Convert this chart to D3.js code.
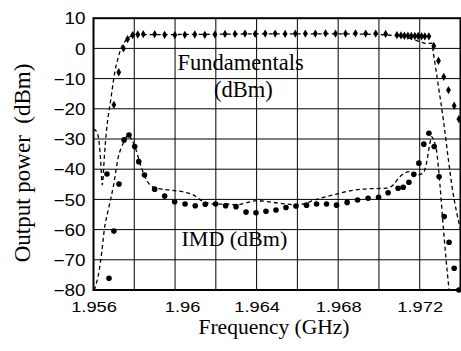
<!DOCTYPE html>
<html><head><meta charset="utf-8">
<script src="https://cdn.jsdelivr.net/npm/d3@7/dist/d3.min.js"></script>
<style>
html,body{margin:0;padding:0;background:#fff;}
svg{display:block;}
</style></head>
<body><svg id="c" width="461" height="351"></svg>
<script>
// ---- data ----
const xTicks = [1.956, 1.96, 1.964, 1.968, 1.972];
const xTickLabels = ["1.956", "1.96", "1.964", "1.968", "1.972"];
const xGrid = [1.958, 1.96, 1.962, 1.964, 1.966, 1.968, 1.970, 1.972];
const yTicks = [-80, -70, -60, -50, -40, -30, -20, -10, 0, 10];

// measured fundamentals (diamonds)
const fundX = [1.95700, 1.95724, 1.95747, 1.95767, 1.95792, 1.95817, 1.95844,
  1.95900, 1.95949, 1.95999, 1.96048, 1.96097, 1.96146, 1.96196, 1.96245, 1.96294, 1.96343,
  1.96393, 1.96442, 1.96491, 1.96540, 1.96590, 1.96639, 1.96688, 1.96738, 1.96787, 1.96836,
  1.96885, 1.96935, 1.96984, 1.97033,
  1.97088, 1.97108, 1.97125, 1.97142, 1.97159, 1.97176, 1.97192, 1.97209, 1.97225, 1.97245,
  1.97269, 1.97292, 1.97318, 1.97341, 1.97369, 1.97392];
const fundY = [-18.7, -7.9, 0.0, 3.1, 4.4, 4.6, 4.7,
  4.7, 4.5, 4.4, 4.5, 4.6, 4.5, 4.6, 4.8, 4.8, 4.9,
  4.8, 4.9, 4.9, 4.8, 4.9, 4.9, 4.9, 5.0, 4.9, 4.9,
  5.0, 4.9, 4.9, 4.8,
  4.4, 4.3, 4.2, 4.2, 4.1, 4.1, 4.1, 4.0, 4.0, 4.0,
  0.8, -4.1, -9.4, -13.8, -19.0, -23.4];

// simulated fundamentals (dashed)
const fundSimX = [1.95600, 1.95616, 1.95628, 1.95635, 1.95643, 1.95654, 1.95664, 1.95673,
  1.95681, 1.95693, 1.95705, 1.95720, 1.95735, 1.95753, 1.95769, 1.95789, 1.95813,
  1.9600, 1.9620, 1.9640, 1.9660, 1.9680, 1.9700,
  1.97088, 1.97169, 1.97201, 1.97234, 1.97259, 1.97267, 1.97292, 1.97316, 1.97341,
  1.97359, 1.97382, 1.97400];
const fundSimY = [-26.7, -27.6, -31.4, -37.0, -45.2, -35.0, -27.0, -22.0,
  -18.7, -13.0, -7.7, -3.3, 0.0, 2.2, 3.3, 4.2, 4.5,
  4.6, 4.7, 4.8, 4.8, 4.8, 4.6,
  4.1, 3.0, 2.2, 1.6, 1.7, -1.6, -12.7, -23.7, -37.0,
  -46.0, -54.6, -60.0];

// measured IMD (dots)
const imdX = [1.95666, 1.95676, 1.95700, 1.95725, 1.95750, 1.95774, 1.95802, 1.95822, 1.95850,
  1.95900, 1.95949, 1.95998, 1.96049, 1.96099, 1.96148, 1.96199, 1.96248, 1.96299, 1.96348,
  1.96397, 1.96446, 1.96495, 1.96544, 1.96593, 1.96645, 1.96694, 1.96743, 1.96792, 1.96844,
  1.96895, 1.96947, 1.96998, 1.97045, 1.97094, 1.97119, 1.97147, 1.97171, 1.97196, 1.97220,
  1.97245, 1.97271, 1.97295, 1.97320, 1.97344, 1.97369, 1.97392];
const imdY = [-41.6, -76.1, -60.5, -44.9, -30.3, -28.7, -32.5, -37.5, -41.9,
  -46.6, -48.9, -50.8, -51.5, -52.1, -51.6, -51.5, -52.1, -52.4, -54.2,
  -54.4, -53.9, -53.5, -52.7, -52.2, -51.9, -51.5, -51.5, -51.9, -51.0,
  -50.2, -49.6, -49.3, -47.8, -46.3, -46.0, -44.3, -41.7, -38.0, -31.7,
  -28.1, -32.5, -42.5, -55.7, -64.2, -72.8, -80.0];

// simulated IMD (dashed)
const imdSimX = [1.95604, 1.95628, 1.95640, 1.95653, 1.95674, 1.95697, 1.95722, 1.95746,
  1.95771, 1.95784, 1.95803, 1.95828, 1.95852, 1.95877, 1.95910, 1.95975, 1.96040, 1.96089,
  1.96138, 1.96204, 1.96253, 1.96302, 1.96351, 1.96400, 1.96449, 1.96514, 1.96602, 1.96694,
  1.96775, 1.96857, 1.96939, 1.97037, 1.97070, 1.97102, 1.97151, 1.97184, 1.97217, 1.97233,
  1.97250, 1.97258, 1.97269, 1.97282, 1.97299, 1.97313, 1.97328, 1.97344];
const imdSimY = [-80.0, -73.4, -67.7, -60.0, -53.0, -45.8, -35.9, -31.4,
  -28.7, -29.8, -32.5, -38.0, -42.5, -45.2, -46.3, -46.9, -47.5, -48.5,
  -50.7, -51.6, -51.5, -51.8, -51.1, -50.4, -50.7, -51.3, -51.8, -50.0,
  -48.5, -47.2, -46.5, -46.3, -45.2, -42.5, -40.8, -41.9, -41.3, -38.0,
  -31.4, -29.2, -30.5, -33.6, -45.0, -57.0, -69.0, -80.0];

// ---- drawing ----
const svg = d3.select("#c");
const L = 93.5, R = 460.5, T = 18.2, B = 290;
const x = d3.scaleLinear().domain([1.956, 1.974]).range([L, R]);
const y = d3.scaleLinear().domain([-80, 10]).range([B, T]);
const serif = "'Liberation Serif','Times New Roman',serif";
const sans = "'Liberation Sans',Arial,sans-serif";

// grid
const g = svg.append("g");
g.selectAll(".vg").data(xGrid).join("line")
  .attr("x1", d => x(d)).attr("x2", d => x(d)).attr("y1", T).attr("y2", B)
  .attr("stroke", "#000").attr("stroke-width", 1);
g.selectAll(".hg").data(yTicks.slice(1, -1)).join("line")
  .attr("x1", L).attr("x2", R).attr("y1", d => y(d)).attr("y2", d => y(d))
  .attr("stroke", "#000").attr("stroke-width", 1);

// clip
svg.append("clipPath").attr("id", "clip").append("rect")
  .attr("x", L).attr("y", T).attr("width", R - L).attr("height", B - T);

const line = d3.line().x(d => x(d[0])).y(d => y(d[1])).curve(d3.curveMonotoneX);
const plot = svg.append("g").attr("clip-path", "url(#clip)");
plot.append("path").datum(d3.zip(fundSimX, fundSimY)).attr("d", line)
  .attr("fill", "none").attr("stroke", "#000").attr("stroke-width", 1.3)
  .attr("stroke-dasharray", "4,3");
plot.append("path").datum(d3.zip(imdSimX, imdSimY)).attr("d", line)
  .attr("fill", "none").attr("stroke", "#000").attr("stroke-width", 1.3)
  .attr("stroke-dasharray", "4,3");

const diamond = d3.symbol().type(d3.symbolDiamond).size(20);
svg.append("g").selectAll("path").data(d3.zip(fundX, fundY)).join("path")
  .attr("transform", d => `translate(${x(d[0])},${y(d[1])})`)
  .attr("d", diamond).attr("fill", "#000");
svg.append("g").selectAll("circle").data(d3.zip(imdX, imdY)).join("circle")
  .attr("cx", d => x(d[0])).attr("cy", d => y(d[1])).attr("r", 2.8).attr("fill", "#000");

// frame
svg.append("rect").attr("x", L).attr("y", T).attr("width", R - L).attr("height", B - T)
  .attr("fill", "none").attr("stroke", "#000").attr("stroke-width", 2);

// axes
const xAxis = d3.axisBottom(x).tickValues(xTicks).tickSize(0).tickPadding(0)
  .tickFormat((d, i) => xTickLabels[i]);
const xa = svg.append("g").attr("transform", `translate(0,${B})`).call(xAxis);
xa.select(".domain").remove();
xa.selectAll("text").attr("y", 21.5).attr("dy", 0).attr("font-family", sans).attr("font-size", 15.5).attr("fill", "#000")
  .attr("dx", d => d === 1.96 ? 7 : 0);

const yAxis = d3.axisLeft(y).tickValues(yTicks).tickSize(0).tickPadding(8);
const ya = svg.append("g").attr("transform", `translate(${L},0)`).call(yAxis);
ya.select(".domain").remove();
ya.selectAll("text").attr("font-family", sans).attr("font-size", 16).attr("fill", "#000").attr("dy", "0.36em");

// horizontal stretch of the sans tick labels
svg.selectAll(".tick text").each(function () {
  const w = this.getComputedTextLength();
  d3.select(this).attr("textLength", w * 1.18).attr("lengthAdjust", "spacingAndGlyphs");
});

// titles
svg.append("text").attr("x", 274).attr("y", 334).attr("text-anchor", "middle")
  .attr("font-family", serif).attr("font-size", 21.5).text("Frequency (GHz)");
svg.append("text").attr("transform", "translate(30,163) rotate(-90)").attr("text-anchor", "middle")
  .attr("font-family", serif).attr("font-size", 23).style("white-space", "pre").text("Output power  (dBm)");

// annotations
svg.append("text").attr("x", 177.5).attr("y", 70).attr("font-family", serif).attr("font-size", 22.5).text("Fundamentals");
svg.append("text").attr("x", 214).attr("y", 97).attr("font-family", serif).attr("font-size", 22.5).text("(dBm)");
svg.append("text").attr("x", 181.5).attr("y", 245.5).attr("font-family", serif).attr("font-size", 22).text("IMD (dBm)");
</script></body></html>
